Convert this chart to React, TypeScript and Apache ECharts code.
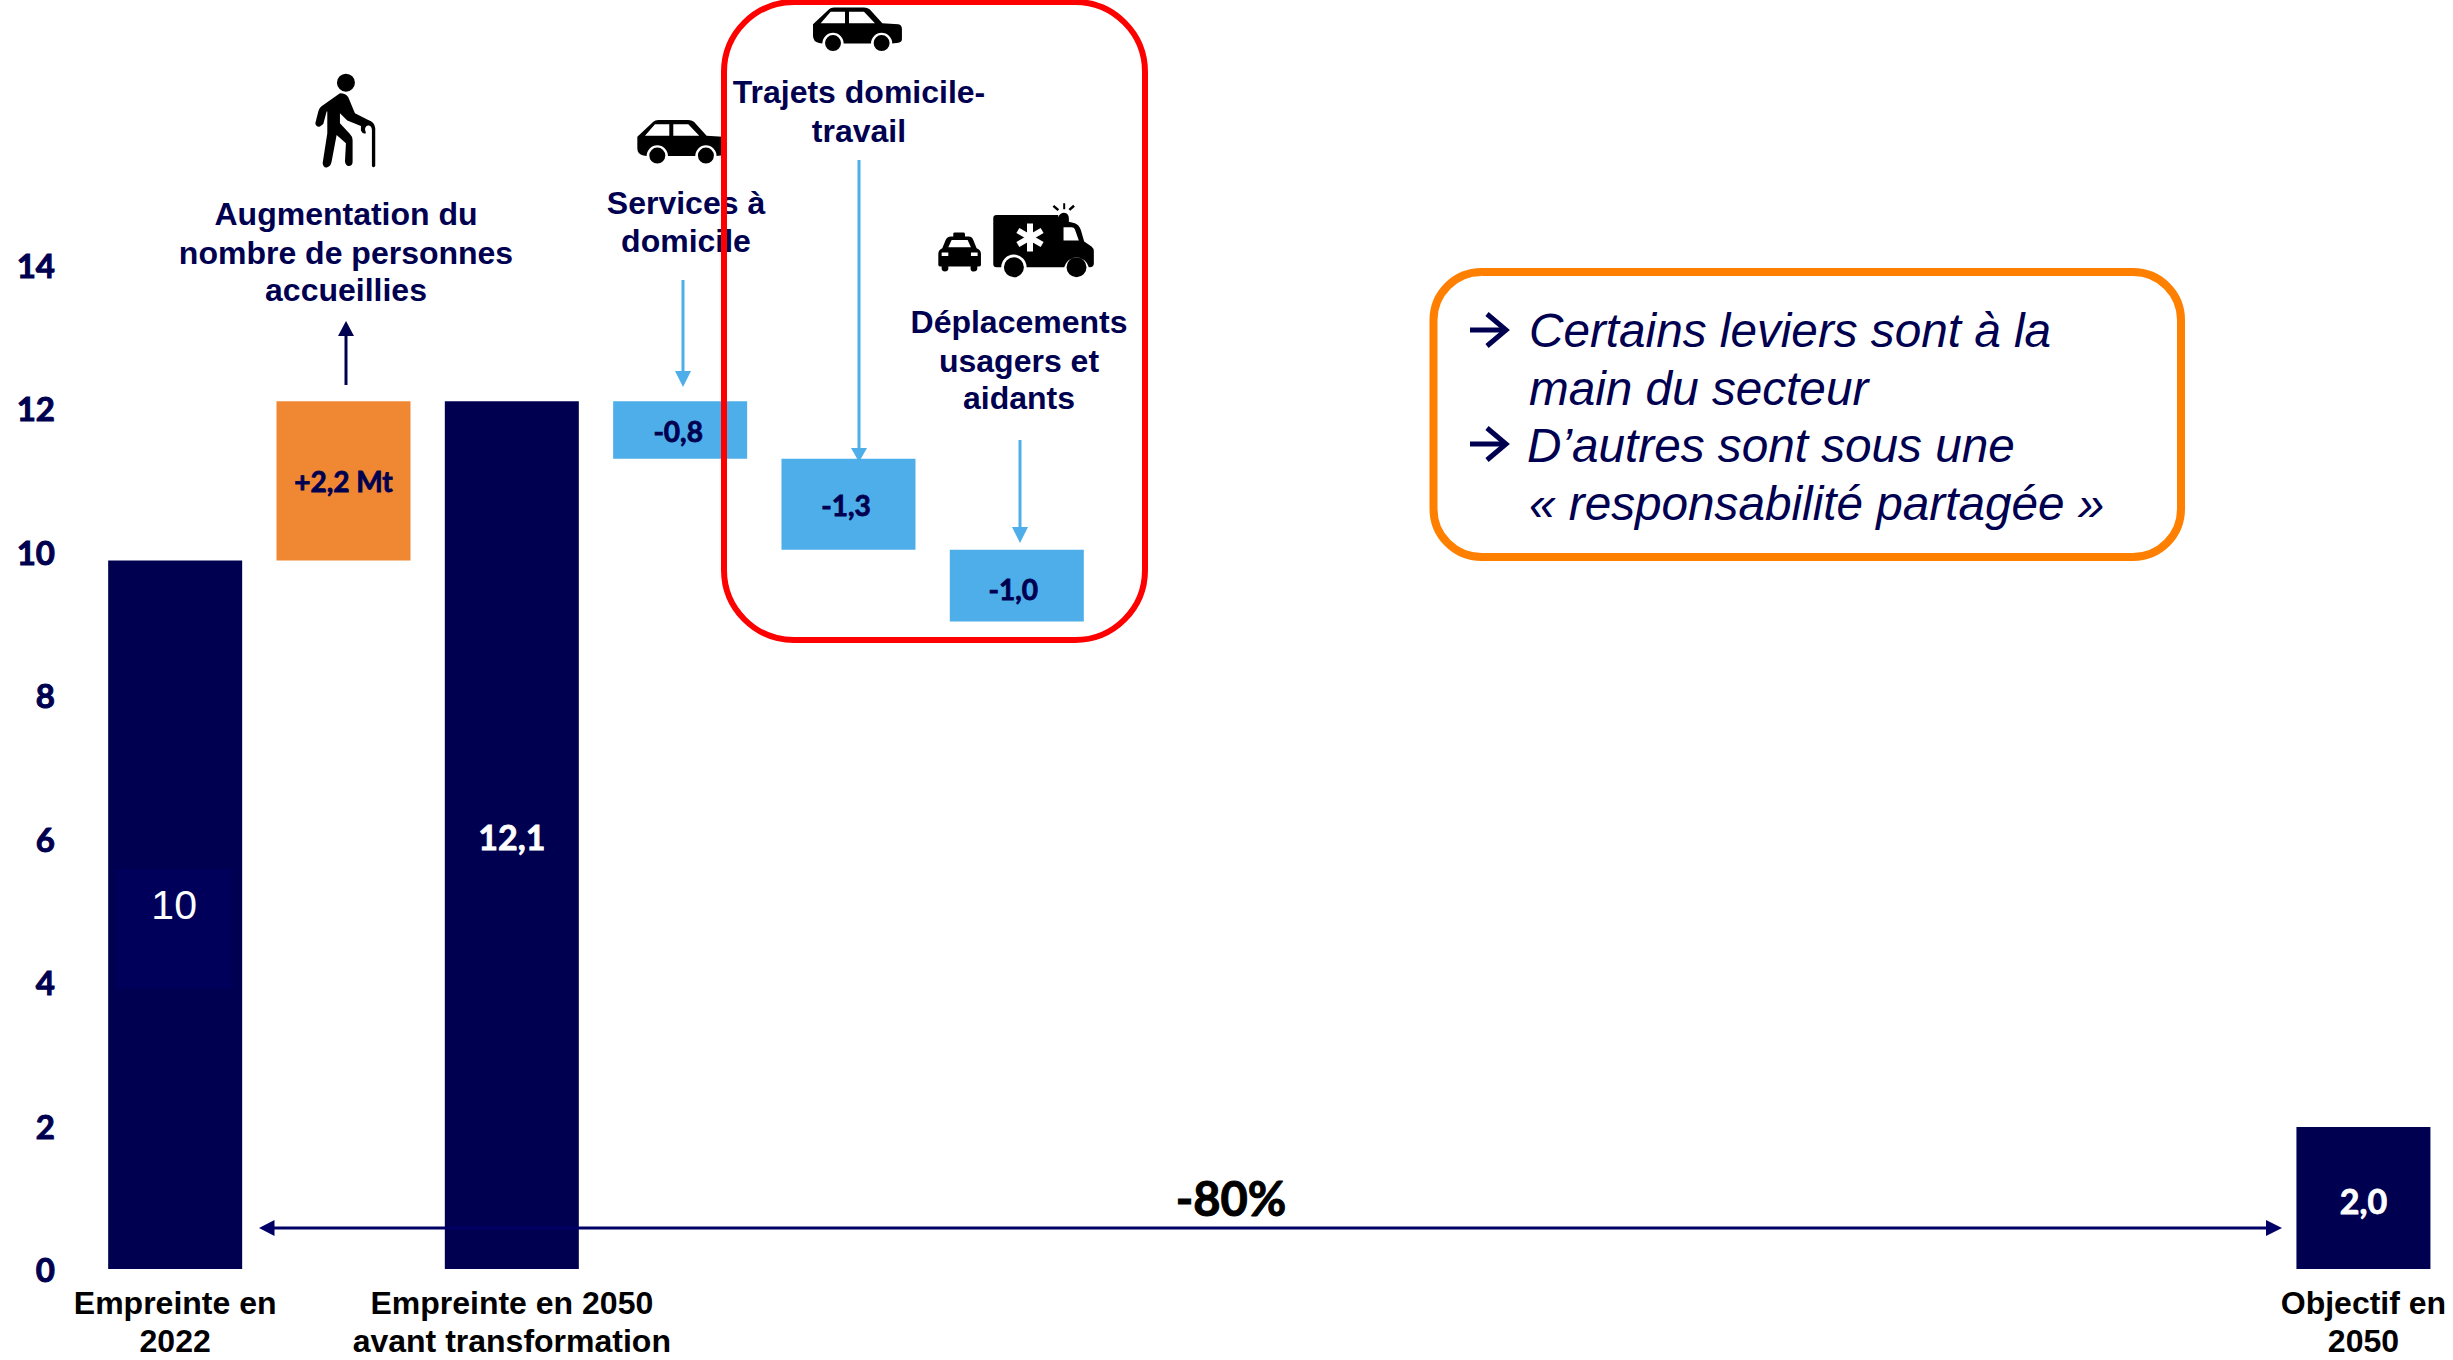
import React, { useEffect, useRef } from "react";
import * as echarts from "echarts";

const categories = [
  "Empreinte en\n2022",
  "Augmentation du nombre de personnes accueillies",
  "Empreinte en 2050\navant transformation",
  "Services à domicile",
  "Trajets domicile-travail",
  "Déplacements usagers et aidants",
  "", "", "", "", "", "", "",
  "Objectif en\n2050",
];
const shownCategoryLabels = [0, 2, 13];
const baseValues = [0, 9.88, 0, 11.3, 10.03, 9.03, 0, 0, 0, 0, 0, 0, 0, 0];
const barValues = [9.88, 2.22, 12.1, 0.8, 1.27, 1.0, null, null, null, null, null, null, null, 1.98];
const valueLabels = ["10", "+2,2 Mt", "12,1", "-0,8", "-1,3", "-1,0", "", "", "", "", "", "", "", "2,0"];
const yTicks = { min: 0, max: 14, interval: 2 };
const reductionLabel = "-80%";

const NAVY = "#000050";
const BLUE = "#4DAEEA";
const ORANGE = "#F08733";
const ARIAL = "'Liberation Sans', Arial, sans-serif";
const LATO = "Lato, Carlito, sans-serif";

const CAR =
  "M22 95 L70 50 Q75 45 85 45 L175 45 Q185 45 192 50 L230 92 L278 95 Q289 97 289 110 L289 140 Q289 150 278 151 L260 153 A32 32 0 0 0 196 153 L114 153 A32 32 0 0 0 50 153 L40 152 Q22 148 22 130 Z " +
  "M45 92 L118 92 L118 58 L75 58 Z M130 92 L208 92 L175 58 L130 58 Z " +
  "M58 152 A24 24 0 1 0 106 152 A24 24 0 1 0 58 152 Z M204 152 A24 24 0 1 0 252 152 A24 24 0 1 0 204 152 Z";
const PERSON =
  "M141 68 A27 27 0 1 0 195 68 A27 27 0 1 0 141 68 Z " +
  "M150 100 L100 135 Q88 142 85 155 L76 190 Q78 202 90 200 L100 192 L110 155 L112 155 L112 220 L98 310 Q100 325 112 322 Q122 320 125 305 L140 225 L168 250 L165 305 Q168 320 178 318 Q188 318 188 305 L188 240 Q188 230 180 222 L150 190 L150 160 L172 182 L213 198 L213 212 Q218 224 228 220 L225 207 Q228 195 238 197 Q246 200 246 212 L246 318 Q250 326 256 318 L256 205 Q254 185 235 180 L195 160 L175 112 Q168 100 150 100 Z";
const AMBULANCE =
  "M215 75 L400 75 L400 82 Q405 68 418 68 Q432 70 432 85 L432 95 L450 100 Q462 104 468 120 L478 155 L500 170 Q507 175 507 185 L507 222 Q505 232 495 232 L492 232 A38 38 0 0 0 418 232 L305 232 A38 38 0 0 0 229 232 L215 232 Q205 232 205 222 L205 85 Q205 75 215 75 Z " +
  "M416 112 L416 152 L462 152 L450 118 Q448 112 440 112 Z " +
  "M237 232 A30 30 0 1 0 297 232 A30 30 0 1 0 237 232 Z M425 232 A30 30 0 1 0 485 232 A30 30 0 1 0 425 232 Z " +
  "M383 50 L388 45 L403 58 L398 63 Z M415 40 L421 40 L421 58 L415 58 Z M445 44 L450 50 L436 62 L431 57 Z";
const TAXI =
  "M85 140 L85 130 Q85 128 90 128 L115 128 Q120 128 120 132 L120 140 L132 140 Q140 140 145 150 L155 175 Q168 180 168 192 L168 225 Q168 230 160 230 L157 230 L157 238 Q155 245 147 245 Q138 245 137 238 L137 230 L70 230 L70 238 Q68 245 60 245 Q52 245 50 238 L50 230 L47 230 Q40 230 40 225 L40 192 Q40 180 52 175 L62 150 Q68 140 78 140 Z " +
  "M70 172 L138 172 L128 150 L80 150 Z M50 188 L50 198 L70 198 L70 188 Z M138 188 L138 198 L158 198 L158 188 Z";

echarts.graphic.registerShape("iconCar", echarts.graphic.extendPath(CAR, {}));
echarts.graphic.registerShape("iconPerson", echarts.graphic.extendPath(PERSON, {}));
echarts.graphic.registerShape("iconAmbulance", echarts.graphic.extendPath(AMBULANCE, {}));
echarts.graphic.registerShape("iconTaxi", echarts.graphic.extendPath(TAXI, {}));

const Z = 10;

function icon(type: string, x: number, y: number, z = Z) {
  return { type, x, y, scaleX: 1 / 3, scaleY: 1 / 3, z, style: { fill: "#000" } };
}

function centred(text: string, x: number, y: number, font: any) {
  return {
    type: "text",
    x,
    y,
    z: Z,
    style: { text, textAlign: "center", textVerticalAlign: "middle", ...font },
  };
}

const noteFont = { fontFamily: ARIAL, fontWeight: "bold", fontSize: 32, fill: NAVY };

function vArrow(x: number, y1: number, tip: number, head: number, color: string) {
  return [
    { type: "line", z: Z, shape: { x1: x, y1, x2: x, y2: head }, style: { stroke: color, lineWidth: 3 } },
    {
      type: "polygon",
      z: Z,
      shape: { points: [[x - 8, head], [x + 8, head], [x, tip]] },
      style: { fill: color },
    },
  ];
}

function bullet(y: number) {
  return {
    type: "polyline",
    z: Z,
    shape: { points: [[1470, y], [1505, y]] },
    style: { stroke: NAVY, lineWidth: 5, fill: "none" },
  };
}
function bulletHead(y: number) {
  return {
    type: "polyline",
    z: Z,
    shape: { points: [[1487, y - 16], [1506, y], [1487, y + 16]] },
    style: { stroke: NAVY, lineWidth: 5, fill: "none" },
  };
}
function boxLine(text: string, x: number, baseline: number) {
  return {
    type: "text",
    x,
    y: baseline,
    z: Z,
    style: {
      text,
      textAlign: "left",
      textVerticalAlign: "bottom",
      fontFamily: ARIAL,
      fontStyle: "italic",
      fontSize: 47.7,
      fill: NAVY,
    },
  };
}

function buildGraphics() {
  const asterisk = [Math.PI / 2, Math.PI / 6, -Math.PI / 6].map((rotation) => ({
    type: "rect",
    x: 1030,
    y: 237.5,
    rotation,
    z: Z,
    shape: { x: -14, y: -3, width: 28, height: 6 },
    style: { fill: "#fff" },
  }));
  return [
    icon("iconPerson", 290, 60),
    icon("iconCar", 630, 105),
    icon("iconCar", 805.7, -7.5),
    icon("iconAmbulance", 925, 190),
    icon("iconTaxi", 925, 190),
    ...asterisk,
    centred("Augmentation du", 346, 214, noteFont),
    centred("nombre de personnes", 346, 253, noteFont),
    centred("accueillies", 346, 290, noteFont),
    centred("Services à", 686, 203, noteFont),
    centred("domicile", 686, 241, noteFont),
    centred("Trajets domicile-", 859, 92, noteFont),
    centred("travail", 859, 131, noteFont),
    centred("Déplacements", 1019, 322, noteFont),
    centred("usagers et", 1019, 361, noteFont),
    centred("aidants", 1019, 398, noteFont),
    ...vArrow(346, 385, 321, 336, NAVY),
    ...vArrow(683, 280, 387, 371, BLUE),
    ...vArrow(859, 160, 462, 448, BLUE),
    ...vArrow(1020, 440, 543, 527, BLUE),
    {
      type: "line",
      z: Z,
      shape: { x1: 272, y1: 1228, x2: 2268, y2: 1228 },
      style: { stroke: "#000066", lineWidth: 3 },
    },
    {
      type: "polygon",
      z: Z,
      shape: { points: [[259, 1228], [274.5, 1220], [274.5, 1236]] },
      style: { fill: "#000066" },
    },
    {
      type: "polygon",
      z: Z,
      shape: { points: [[2282, 1228], [2266, 1220], [2266, 1236]] },
      style: { fill: "#000066" },
    },
    centred(reductionLabel, 1231, 1198, {
      fontFamily: LATO,
      fontWeight: "bold",
      fontSize: 47,
      fill: "#000",
      stroke: "#000",
      lineWidth: 1,
    }),
    {
      type: "rect",
      z: Z + 1,
      shape: { x: 724, y: 2, width: 421, height: 638, r: 70 },
      style: { fill: "none", stroke: "#FF0000", lineWidth: 6 },
    },
    {
      type: "rect",
      z: Z,
      shape: { x: 1433.5, y: 272, width: 747.5, height: 285, r: 48 },
      style: { fill: "#fff", stroke: "#FF8000", lineWidth: 8 },
    },
    { ...bullet(330), z: Z + 1 },
    { ...bulletHead(330), z: Z + 1 },
    { ...bullet(444), z: Z + 1 },
    { ...bulletHead(444), z: Z + 1 },
    { ...boxLine("Certains leviers sont à la", 1529, 354), z: Z + 1 },
    { ...boxLine("main du secteur", 1529, 412), z: Z + 1 },
    { ...boxLine("D’autres sont sous une", 1527, 469), z: Z + 1 },
    { ...boxLine("« responsabilité partagée »", 1529, 527), z: Z + 1 },
  ];
}

const colors = [NAVY, ORANGE, NAVY, BLUE, BLUE, BLUE, NAVY, NAVY, NAVY, NAVY, NAVY, NAVY, NAVY, NAVY];
const labelOffsets: [number, number][] = [
  [-1, 14], [0, 0], [0, 1.5], [-2, 1.5], [-2.5, 0.5], [-3.5, 3], [0, 0], [0, 0], [0, 0], [0, 0], [0, 0], [0, 0], [0, 0], [0, 2.5],
];

function labelFor(i: number) {
  if (i === 0) {
    return {
      show: true,
      position: "inside",
      formatter: valueLabels[i] + "\n \n ",
      offset: labelOffsets[i],
      fontFamily: ARIAL,
      fontSize: 41,
      lineHeight: 24,
      color: "#fff",
      backgroundColor: "#00005A",
      padding: [24, 36, 24, 36],
    };
  }
  const white = i === 2 || i === 13;
  return {
    show: !!valueLabels[i],
    position: "inside",
    formatter: valueLabels[i],
    offset: labelOffsets[i],
    fontFamily: LATO,
    fontWeight: "bold",
    fontSize: white ? 34 : 28,
    color: white ? "#fff" : NAVY,
    textBorderColor: white ? "#fff" : NAVY,
    textBorderWidth: 0.8,
  };
}

export default function App() {
  const ref = useRef<HTMLDivElement>(null);
  useEffect(() => {
    document.body.style.margin = "0";
    const chart = echarts.init(ref.current!, null, { renderer: "svg" });
    chart.setOption({
      animation: false,
      backgroundColor: "#fff",
      grid: { left: 91, right: 5.4, top: 265, height: 1008, containLabel: false },
      xAxis: {
        type: "category",
        data: categories,
        axisLine: { show: false },
        axisTick: { show: false },
        axisLabel: {
          interval: 0,
          margin: 15,
          color: "#000",
          fontFamily: ARIAL,
          fontWeight: "bold",
          fontSize: 32,
          lineHeight: 38,
          formatter: (v: string, i: number) => (shownCategoryLabels.includes(i) ? v : ""),
        },
      },
      yAxis: {
        type: "value",
        min: yTicks.min,
        max: yTicks.max,
        interval: yTicks.interval,
        splitLine: { show: false },
        axisLine: { show: false },
        axisTick: { show: false },
        axisLabel: {
          margin: 36,
          color: NAVY,
          fontFamily: LATO,
          fontWeight: "bold",
          fontSize: 33,
          textBorderColor: NAVY,
          textBorderWidth: 1,
        },
      },
      series: [
        {
          type: "bar",
          stack: "w",
          barWidth: 134,
          silent: true,
          itemStyle: { color: "transparent" },
          data: baseValues,
        },
        {
          type: "bar",
          stack: "w",
          barWidth: 134,
          data: barValues.map((value, i) => ({
            value,
            itemStyle: { color: colors[i] },
            label: labelFor(i),
          })),
        },
      ],
      graphic: { elements: buildGraphics() },
    });
    return () => chart.dispose();
  }, []);
  return <div ref={ref} style={{ position: "fixed", left: 0, top: 0, width: 2453, height: 1360 }} />;
}
